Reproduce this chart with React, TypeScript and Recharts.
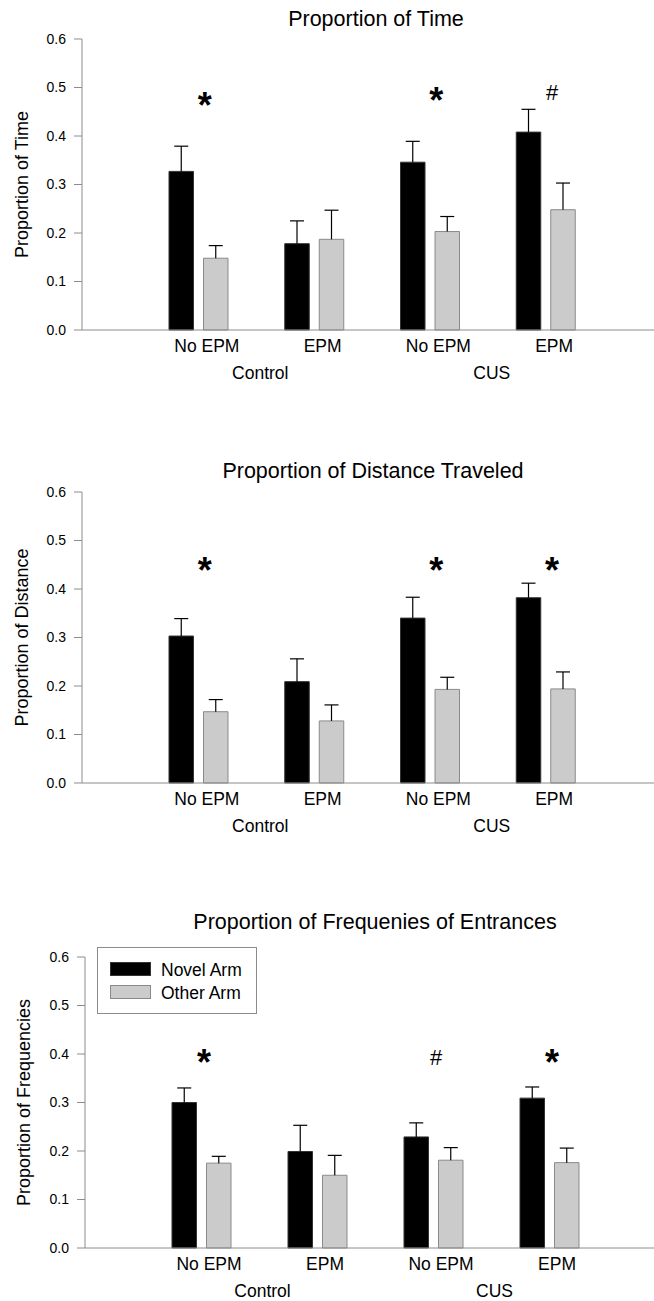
import { Bar, BarChart, ErrorBar, Label, Legend, ReferenceDot, XAxis, YAxis } from "recharts"

const categoryKeys = ["control-noepm", "control-epm", "cus-noepm", "cus-epm"]
const tickLabels = ["No EPM", "EPM", "No EPM", "EPM"]
const groupLabels = ["Control", "Control", "CUS", "CUS"]
const seriesNames = ["Novel Arm", "Other Arm"]
const yTicks = [0, 0.1, 0.2, 0.3, 0.4, 0.5, 0.6]

// Proportion of Time
const timeNovel = [0.327, 0.178, 0.346, 0.408]
const timeNovelSem = [0.052, 0.047, 0.043, 0.047]
const timeOther = [0.148, 0.187, 0.203, 0.248]
const timeOtherSem = [0.026, 0.06, 0.031, 0.055]
const timeMarks = ["*", "", "*", "#"]
const timeMarkLevels = [0.48, 0, 0.49, 0.49]

// Proportion of Distance Traveled
const distNovel = [0.303, 0.209, 0.34, 0.382]
const distNovelSem = [0.036, 0.047, 0.043, 0.03]
const distOther = [0.147, 0.128, 0.193, 0.194]
const distOtherSem = [0.025, 0.033, 0.025, 0.035]
const distMarks = ["*", "", "*", "*"]
const distMarkLevels = [0.455, 0, 0.455, 0.455]

// Proportion of Frequenies of Entrances
const freqNovel = [0.3, 0.199, 0.229, 0.309]
const freqNovelSem = [0.03, 0.054, 0.029, 0.023]
const freqOther = [0.175, 0.15, 0.181, 0.176]
const freqOtherSem = [0.014, 0.041, 0.026, 0.03]
const freqMarks = ["*", "", "#", "*"]
const freqMarkLevels = [0.401, 0, 0.394, 0.401]

const AXIS = "#8c8c8c"
const FONT = "'Liberation Sans', Arial, sans-serif"

function buildRows(novel: number[], novelSem: number[], other: number[], otherSem: number[]) {
  return categoryKeys.map((key, i) => ({
    key,
    group: groupLabels[i],
    novel: novel[i],
    other: other[i],
    novelErr: [0, novelSem[i]],
    otherErr: [0, otherSem[i]],
  }))
}

const swatchStyles = [
  { background: "#000", border: "1px solid #333" },
  { background: "#cbcbcb", border: "1px solid #8a8a8a" },
]

function LegendBox(props: any) {
  const payload = props.payload || []
  return (
    <div
      style={{
        position: "relative",
        width: 160,
        height: 67,
        border: "1px solid #8c8c8c",
        boxSizing: "border-box",
        background: "#fff",
        fontFamily: FONT,
        fontSize: 17.5,
        lineHeight: "20px",
        color: "#000",
      }}
    >
      {payload.map((entry: any, i: number) => (
        <div key={`legend-${i}`}>
          <div
            style={{
              position: "absolute",
              left: 12,
              top: 14 + i * 22.5,
              width: 41,
              height: 14,
              boxSizing: "border-box",
              ...swatchStyles[i],
            }}
          />
          <div style={{ position: "absolute", left: 63, top: 12 + i * 22.5, whiteSpace: "nowrap" }}>
            {entry.value}
          </div>
        </div>
      ))}
    </div>
  )
}

type PanelProps = {
  top: number
  title: string
  titleX: number
  titleTop: number
  yLabel: string
  yLabelX: number
  axisWidth: number
  padding: { left: number; right: number }
  rows: any[]
  marks: string[]
  markLevels: number[]
  markDx: number
  showLegend?: boolean
}

function Panel(p: PanelProps) {
  const renderTick = (props: any) => (
    <text x={props.x + 8} y={props.y} dy="0.71em" textAnchor="middle" fontSize={17.5} fill="#000" fontFamily={FONT}>
      {tickLabels[props.index]}
    </text>
  )
  const renderGroupTick = (props: any) => (
    <text x={props.x + 3.5} y={props.y} dy="0.71em" textAnchor="middle" fontSize={17.5} fill="#000" fontFamily={FONT}>
      {props.payload.value}
    </text>
  )
  const renderYLabel = (props: any) => {
    const vb = props.viewBox
    const cy = vb.y + vb.height / 2
    return (
      <text
        x={p.yLabelX}
        y={cy}
        transform={`rotate(-90, ${p.yLabelX}, ${cy})`}
        textAnchor="middle"
        fontSize={18}
        fill="#000"
        fontFamily={FONT}
      >
        {p.yLabel}
      </text>
    )
  }

  return (
    <>
      <div style={{ position: "absolute", left: 0, top: p.top }}>
        <BarChart
          width={654}
          height={387}
          data={p.rows}
          margin={{ top: 40, right: 0, bottom: 0, left: 0 }}
          barSize={24.5}
          barGap={10}
        >
          <XAxis
            xAxisId="b-group"
            dataKey="group"
            allowDuplicatedCategory={false}
            height={30}
            padding={p.padding}
            axisLine={false}
            tickLine={false}
            tickSize={9}
            tickMargin={2}
            tick={renderGroupTick}
            interval={0}
          />
          <XAxis
            xAxisId="a-main"
            dataKey="key"
            height={26}
            padding={p.padding}
            axisLine={{ stroke: AXIS }}
            tickLine={false}
            tickSize={8}
            tickMargin={2}
            tick={renderTick}
            interval={0}
          />
          <YAxis
            width={p.axisWidth}
            domain={[0, 0.6]}
            ticks={yTicks}
            interval={0}
            tickFormatter={(v: number) => v.toFixed(1)}
            axisLine={{ stroke: AXIS }}
            tickLine={{ stroke: AXIS }}
            tickSize={8}
            tickMargin={8}
            tick={{ fontSize: 14, fill: "#000", fontFamily: FONT }}
          >
            <Label content={renderYLabel} />
          </YAxis>
          <Bar xAxisId="a-main" dataKey="novel" name={seriesNames[0]} fill="#000" stroke="#333" isAnimationActive={false}>
            <ErrorBar dataKey="novelErr" width={7} stroke="#000" strokeWidth={1.2} direction="y" isAnimationActive={false} />
          </Bar>
          <Bar xAxisId="a-main" dataKey="other" name={seriesNames[1]} fill="#cbcbcb" stroke="#8a8a8a" isAnimationActive={false}>
            <ErrorBar dataKey="otherErr" width={7} stroke="#000" strokeWidth={1.2} direction="y" isAnimationActive={false} />
          </Bar>
          {p.marks.map((m, i) =>
            m ? (
              <ReferenceDot
                key={`mark-${i}`}
                xAxisId="a-main"
                x={p.rows[i].key}
                y={p.markLevels[i]}
                r={0}
                shape={(sp: any) =>
                  m === "*" ? (
                    <text x={sp.cx + p.markDx} y={sp.cy + 21} textAnchor="middle" fontSize={36} fontWeight="bold" fill="#000" fontFamily={FONT}>
                      *
                    </text>
                  ) : (
                    <text x={sp.cx + p.markDx} y={sp.cy + 8} textAnchor="middle" fontSize={22} fill="#000" fontFamily={FONT}>
                      #
                    </text>
                  )
                }
              />
            ) : null,
          )}
          {p.showLegend && (
            <Legend
              layout="vertical"
              verticalAlign="middle"
              align="center"
              wrapperStyle={{ left: 97, top: 30, width: "auto", height: "auto" }}
              content={<LegendBox />}
            />
          )}
        </BarChart>
      </div>
      <div
        style={{
          position: "absolute",
          left: p.titleX - 250,
          top: p.titleTop,
          width: 500,
          textAlign: "center",
          fontSize: 21.5,
          lineHeight: "21.5px",
          fontFamily: FONT,
          color: "#000",
          whiteSpace: "nowrap",
        }}
      >
        {p.title}
      </div>
    </>
  )
}

export default function App() {
  return (
    <div style={{ position: "relative", width: 654, height: 1301, overflow: "hidden", background: "#fff", fontFamily: FONT }}>
      <style>{"body{margin:0} .recharts-errorBar line:nth-of-type(3){display:none}"}</style>
      <Panel
        top={-1}
        title="Proportion of Time"
        titleX={376}
        titleTop={9}
        yLabel="Proportion of Time"
        yLabelX={28}
        axisWidth={82}
        padding={{ left: 59, right: 50 }}
        rows={buildRows(timeNovel, timeNovelSem, timeOther, timeOtherSem)}
        marks={timeMarks}
        markLevels={timeMarkLevels}
        markDx={6}
      />
      <Panel
        top={452}
        title="Proportion of Distance Traveled"
        titleX={373}
        titleTop={461}
        yLabel="Proportion of Distance"
        yLabelX={28}
        axisWidth={82}
        padding={{ left: 59, right: 50 }}
        rows={buildRows(distNovel, distNovelSem, distOther, distOtherSem)}
        marks={distMarks}
        markLevels={distMarkLevels}
        markDx={6}
      />
      <Panel
        top={917}
        title="Proportion of Frequenies of Entrances"
        titleX={375}
        titleTop={912}
        yLabel="Proportion of Frequencies"
        yLabelX={30}
        axisWidth={85}
        padding={{ left: 58, right: 47 }}
        rows={buildRows(freqNovel, freqNovelSem, freqOther, freqOtherSem)}
        marks={freqMarks}
        markLevels={freqMarkLevels}
        markDx={3}
        showLegend
      />
    </div>
  )
}
